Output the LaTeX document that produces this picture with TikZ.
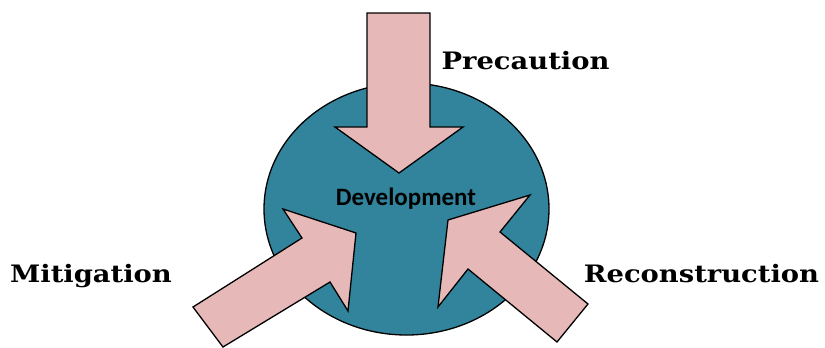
\documentclass[tikz,border=0pt]{standalone}
\usepackage{fontspec}
\newfontfamily\labelfont{DejaVu Serif}[FakeStretch=1.14]
\newfontfamily\corefont{Carlito}
\usetikzlibrary{shapes.geometric}
\definecolor{devteal}{HTML}{31849B}
\definecolor{arrowpink}{HTML}{E6B9B8}
\tikzstyle{blockarrow} = [draw=black,fill=arrowpink,line width=1.3pt,line join=miter]
\tikzstyle{phase} = [anchor=base,inner sep=0pt,font=\labelfont\bfseries\fontsize{24}{28}\selectfont]

\begin{document}
\begin{tikzpicture}[x=1pt,y=-1pt]
\useasboundingbox (0,0) rectangle (825,348);

\node[ellipse,draw=black,fill=devteal,line width=1.3pt,minimum width=285pt,minimum height=252pt] (core) at (406.5,209) {};

% arrows into the circle
\draw[blockarrow] (367,13) -- (430,13) -- (430,127) -- (463,127) -- (399,173) -- (335,127) -- (367,127) -- cycle;
\draw[blockarrow] (193,307) -- (302,238) -- (283,209) -- (356,233) -- (348,311) -- (330,282) -- (223,347) -- cycle;
\draw[blockarrow] (588,304) -- (500,232) -- (530,195) -- (448,220) -- (438,307) -- (468,269) -- (557,342) -- cycle;

\node[anchor=base,inner sep=0pt,font=\corefont\bfseries\fontsize{25}{29}\selectfont] (devlabel) at (406,205) {Development};

\node[phase] (precaution) at (525.5,69) {Precaution};
\node[phase] (mitigation) at (91,282) {Mitigation};
\node[phase] (reconstruction) at (701.5,282) {Reconstruction};
\end{tikzpicture}
\end{document}
